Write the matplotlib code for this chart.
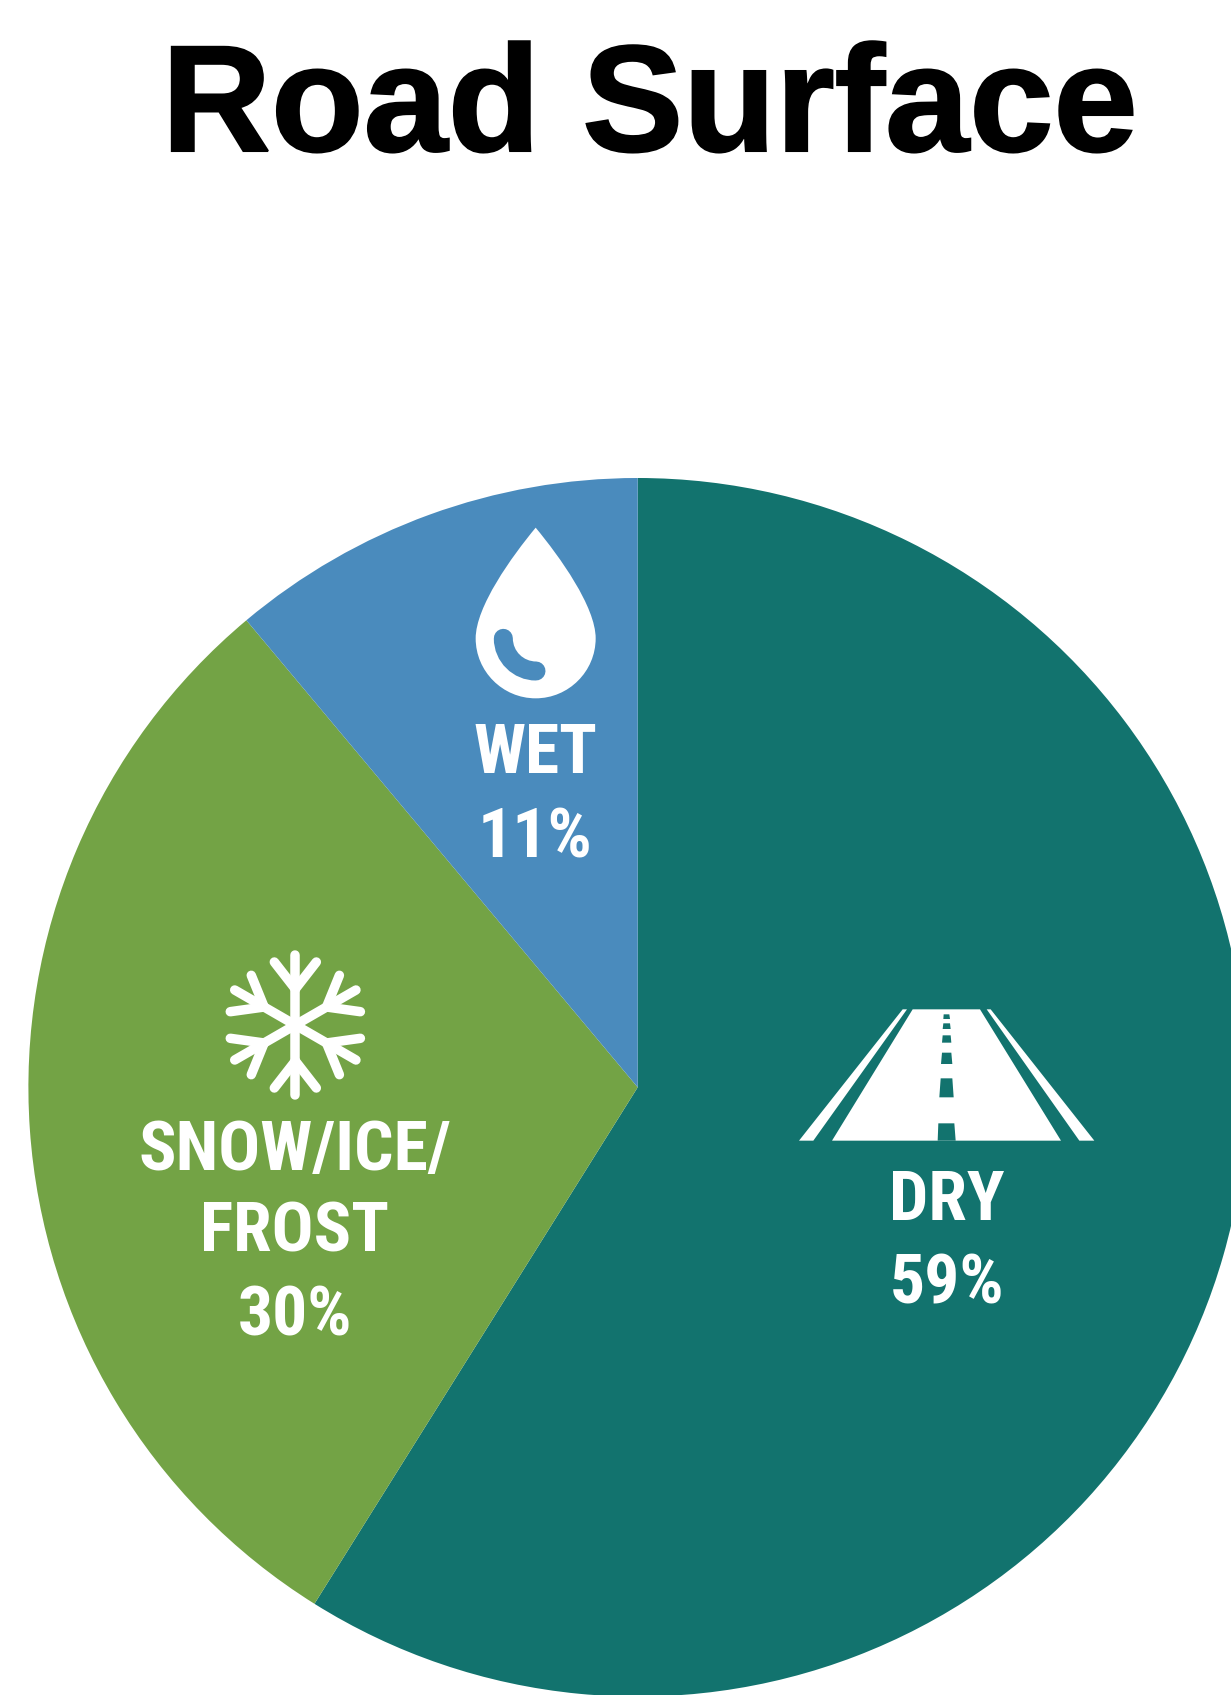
import matplotlib
matplotlib.use("Agg")
import matplotlib.patheffects as pe
import matplotlib.pyplot as plt
import numpy as np
from matplotlib.patches import PathPatch, Polygon
from matplotlib.path import Path

W, H = 1231, 1695

categories = ["DRY", "SNOW/ICE/\nFROST", "WET"]
# wedge sizes, labels show them rounded
wedges = [58.9, 30.0, 11.1]
shares = [59, 30, 11]
colors = ["#12736E", "#73A345", "#4A8BBD"]


def flip(pts, ox=0, oy=0, k=1.0):
    # crop coordinates (y down) to figure pixels (y up)
    pts = np.asarray(pts, dtype=float)
    return np.column_stack([ox + pts[:, 0] * k, H - (oy + pts[:, 1] * k)])


def draw_road(ax):
    white = [
        [(117, 482), (160, 482), (441, 88), (428, 88)],
        [(216, 482), (903, 482), (660, 88), (458, 88)],
        [(958, 482), (1003, 482), (692, 88), (680, 88)],
    ]
    dashes = [
        [(533, 482), (587, 482), (583, 430), (535, 430)],
        [(538, 352), (581, 352), (577, 295), (542, 295)],
        [(543, 252), (577, 252), (574, 218), (546, 218)],
        [(546, 188), (574, 188), (572, 166), (548, 166)],
        [(548, 147), (572, 147), (570, 130), (550, 130)],
        [(550, 117), (570, 117), (568, 103), (551, 103)],
    ]
    for p in white:
        ax.add_patch(Polygon(flip(p, 760, 980, 1 / 3), fc="white", ec="none", zorder=3))
    for p in dashes:
        ax.add_patch(Polygon(flip(p, 760, 980, 1 / 3), fc=colors[0], ec="none", zorder=4))


def draw_drop(ax):
    pts = [
        (287, 53),
        (215, 140), (107, 290), (107, 385),
        (107, 484), (188, 565), (287, 565),
        (386, 565), (467, 484), (467, 385),
        (467, 290), (359, 140), (287, 53),
    ]
    codes = [Path.MOVETO] + [Path.CURVE4] * 12
    ax.add_patch(PathPatch(Path(flip(pts, 440, 510, 1 / 3), codes), fc="white", ec="none", zorder=3))
    shine = [(190, 385), (190, 440), (235, 483), (288, 483)]
    ax.add_patch(PathPatch(Path(flip(shine, 440, 510, 1 / 3), [Path.MOVETO] + [Path.CURVE4] * 3),
                           fc="none", ec=colors[2], lw=19 * 0.72, capstyle="round", zorder=4))


def draw_flake(ax):
    cx, cy = 210 + 256 / 3, 930 + 285 / 3
    segs = [[(0, 0), (0, 70)], [(0, 36), (-21, 63)], [(0, 36), (21, 63)]]
    for a in np.radians(np.arange(0, 360, 60)):
        c, s = np.cos(a), np.sin(a)
        for seg in segs:
            seg = np.array(seg, dtype=float)
            x = cx + seg[:, 0] * c - seg[:, 1] * s
            y = H - cy + seg[:, 0] * s + seg[:, 1] * c
            ax.plot(x, y, color="white", lw=9.5 * 0.72, solid_capstyle="round", zorder=3)


fig = plt.figure(figsize=(W / 100, H / 100), dpi=100, facecolor="white")
ax = fig.add_axes([0, 0, 1, 1])

ax.pie(wedges, colors=colors, startangle=90, counterclock=False,
       center=(637.7, H - 1087.3), radius=609.3, wedgeprops={"linewidth": 0})
ax.set_xlim(0, W)
ax.set_ylim(0, H)
ax.axis("off")

draw_road(ax)
draw_drop(ax)
draw_flake(ax)

ax.text(649.5, H - 151, "Road Surface", fontsize=109, fontweight="bold", family="Liberation Sans",
        color="black", ha="center", va="baseline",
        path_effects=[pe.withStroke(linewidth=1.5, foreground="black", joinstyle="miter")])

label_font = {"fontsize": 50, "fontweight": "bold", "family": "Roboto Condensed", "color": "white",
              "ha": "center", "va": "baseline", "zorder": 5}
ax.text(947, H - 1220, categories[0], **label_font)
ax.text(947, H - 1303.5, f"{shares[0]}%", **label_font)
first, second = categories[1].split("\n")
ax.text(295, H - 1170, first, **label_font)
ax.text(295, H - 1251.6, second, **label_font)
ax.text(295, H - 1336, f"{shares[1]}%", **label_font)
ax.text(535, H - 773, categories[2], **label_font)
ax.text(535, H - 857, f"{shares[2]}%", **label_font)

fig.savefig("out.png", dpi=100)
